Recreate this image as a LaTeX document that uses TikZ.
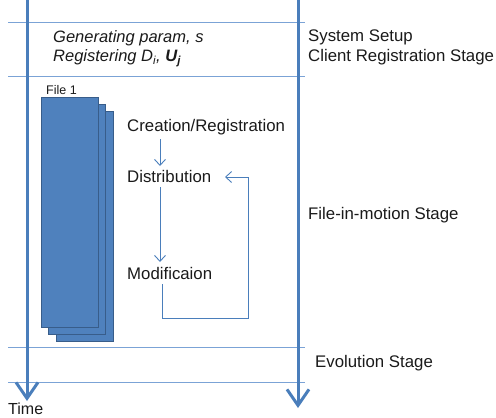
\documentclass[tikz,border=0pt]{standalone}
\usepackage{fontspec}
\setmainfont{Liberation Sans}
\usetikzlibrary{arrows.meta}
\definecolor{axisblue}{HTML}{4A7EBB}
\definecolor{lineblue}{HTML}{7BA3D6}
\definecolor{filefill}{HTML}{4F81BD}
\definecolor{fileedge}{HTML}{385D8A}
\definecolor{txt}{HTML}{1A1A1A}
\tikzset{
  axis/.style={axisblue, line width=3pt, -{Straight Barb[length=16pt,width=22pt,line width=3pt]}},
  stageline/.style={lineblue, line width=1pt},
  filebox/.style={draw=fileedge, fill=filefill, line width=1.2pt, minimum width=57pt, minimum height=230pt, inner sep=0pt},
  lbl/.style={anchor=west, inner sep=0pt, text=txt, font=\fontsize{16.8}{19}\selectfont},
  flow/.style={axisblue, line width=0.9pt, -{Straight Barb[length=6pt,width=11pt,line width=0.9pt]}},
}
\begin{document}
\begin{tikzpicture}[x=1pt,y=-1pt]
\useasboundingbox (0,0) rectangle (496,418);
% stage lines
\coordinate (h1l) at (8,22);  \coordinate (h1r) at (305,22);
\coordinate (h2l) at (8,76);  \coordinate (h2r) at (305,76);
\coordinate (h3l) at (8,347); \coordinate (h3r) at (305,347);
\coordinate (h4l) at (8,382); \coordinate (h4r) at (305,382);
\draw[stageline] (h1l) -- (h1r);
\draw[stageline] (h2l) -- (h2r);
\draw[stageline] (h3l) -- (h3r);
\draw[stageline] (h4l) -- (h4r);
% axes
\coordinate (a1s) at (27,0);  \coordinate (a1e) at (27,401);
\coordinate (a2s) at (298,0); \coordinate (a2e) at (298,408);
\draw[axis] (a1s) -- (a1e);
\draw[axis] (a2s) -- (a2e);
% file stack
\node[filebox, anchor=north west] (f3) at (56,111) {};
\node[filebox, anchor=north west] (f2) at (48,104) {};
\node[filebox, anchor=north west] (f1) at (41,97) {};
\node[anchor=south west, inner sep=0pt, text=txt, font=\fontsize{12.5}{14}\selectfont] (fl) at (46,95) {File 1};
% texts
\node[lbl, font=\fontsize{16.5}{19}\selectfont\itshape] (gen) at (53,38) {Generating param, s};
\node[lbl, font=\fontsize{16.5}{19}\selectfont\itshape] (reg) at (53,58) {Registering D\textsubscript{i}, \textbf{U\textsubscript{j}}};
\node[lbl] (ss) at (308,37) {System Setup};
\node[lbl] (crs) at (308,57) {Client Registration Stage};
\node[lbl] (fim) at (308,215) {File-in-motion Stage};
\node[lbl] (evo) at (315,363) {Evolution Stage};
\node[lbl, anchor=base west, font=\fontsize{16}{18}\selectfont] (time) at (8,414) {Time};
\node[lbl] (cre) at (127,127) {Creation/Registration};
\node[lbl] (dis) at (127,176) {Distribution};
\node[lbl] (mod) at (127,273) {Modificaion};
% flow arrows
\coordinate (c1) at (160,139); \coordinate (c2) at (160,166);
\coordinate (d1) at (160,187); \coordinate (d2) at (160,262);
\draw[flow] (c1) -- (c2);
\draw[flow] (d1) -- (d2);
\coordinate (m1) at (162,284);
\coordinate (m2) at (162,318);
\coordinate (m3) at (248,318);
\coordinate (m4) at (248,177);
\coordinate (m5) at (225,177);
\draw[flow, line width=0.7pt] (m1) -- (m2) -- (m3) -- (m4) -- (m5);
\end{tikzpicture}
\end{document}
